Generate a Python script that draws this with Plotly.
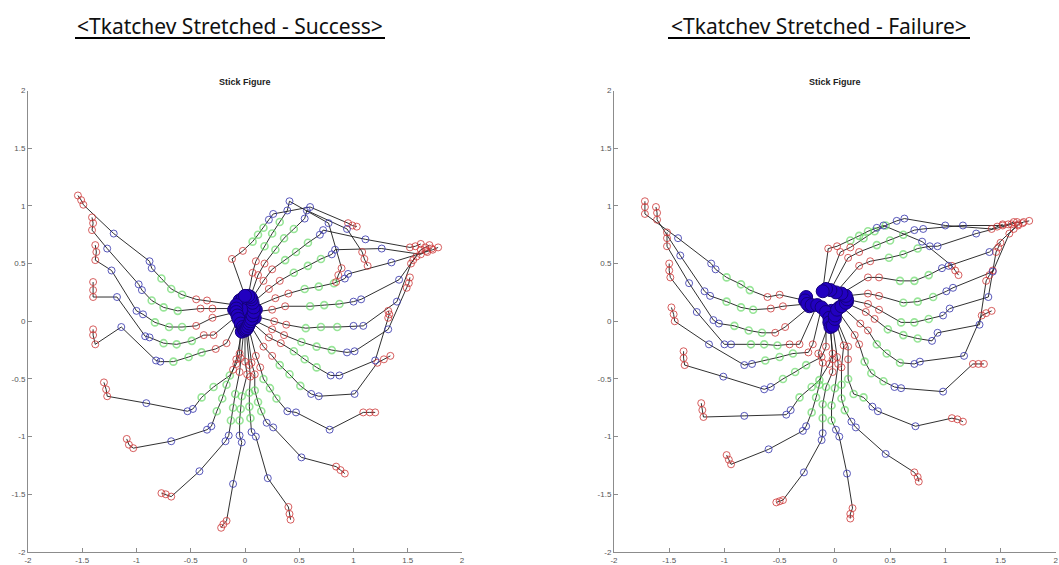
import plotly.graph_objects as go

W, H = 1059, 565

# ---------------- Tkatchev stretched - success ----------------
# one entry per frame: hand on bar, arm (2 markers), trunk (3), hip (2), knee, foot (3)
success_hand = [(-0.08, 0.14), (-0.08, 0.11), (-0.08, 0.08), (-0.07, 0.05), (-0.06, 0.02),
                (-0.04, -0.02), (-0.02, -0.05), (-0.01, -0.07), (0.0, -0.08), (0.01, -0.07),
                (0.02, -0.06), (0.03, -0.04), (0.04, -0.02), (0.05, 0.0), (0.06, 0.02),
                (0.07, 0.05), (0.08, 0.08), (0.08, 0.12), (0.07, 0.16), (0.06, 0.19),
                (0.05, 0.21), (0.03, 0.22), (0.0, 0.22)]
success_hub_extra = [(-0.1, 0.1), (-0.05, 0.18), (-0.02, 0.2), (0.02, 0.16),
                     (0.1, 0.1), (0.09, 0.03), (0.04, 0.06), (-0.03, 0.1),
                     (-0.03, -0.09), (0.0, -0.02)]
success_arm = [[(-0.35, 0.18), (-0.45, 0.19)], [(-0.30, 0.11), (-0.41, 0.11)],
               [(-0.30, 0.03), (-0.45, -0.04)], [(-0.29, -0.12), (-0.38, -0.12)],
               [(-0.17, -0.19), (-0.27, -0.24)], [(-0.05, -0.28), (-0.08, -0.37)],
               [(-0.08, -0.33), (-0.11, -0.42)], [(-0.04, -0.32), (-0.05, -0.44)],
               [(0.0, -0.35), (0.02, -0.46)], [(0.04, -0.38), (0.05, -0.48)],
               [(0.06, -0.36), (0.09, -0.46)], [(0.10, -0.30), (0.14, -0.40)],
               [(0.17, -0.22), (0.25, -0.30)], [(0.22, -0.14), (0.33, -0.19)],
               [(0.25, -0.07), (0.36, -0.12)], [(0.27, 0.0), (0.38, -0.03)],
               [(0.25, 0.10), (0.37, 0.13)], [(0.28, 0.20), (0.40, 0.24)],
               [(0.22, 0.28), (0.32, 0.35)], [(0.17, 0.35), (0.25, 0.45)],
               [(0.12, 0.40), (0.18, 0.50)], [(0.07, 0.42), (0.10, 0.52)],
               [(-0.12, 0.54), (-0.02, 0.61)]]
success_trunk = [[(-0.58, 0.23), (-0.68, 0.28), (-0.77, 0.37)],
                 [(-0.62, 0.09), (-0.75, 0.12), (-0.86, 0.18)],
                 [(-0.58, -0.05), (-0.70, -0.05), (-0.83, -0.01)],
                 [(-0.49, -0.17), (-0.63, -0.20), (-0.75, -0.19)],
                 [(-0.40, -0.27), (-0.52, -0.31), (-0.66, -0.35)],
                 [(-0.14, -0.47), (-0.29, -0.57), (-0.40, -0.66)],
                 [(-0.17, -0.55), (-0.21, -0.67), (-0.26, -0.78)],
                 [(-0.09, -0.63), (-0.11, -0.75), (-0.13, -0.86)],
                 [(-0.03, -0.65), (-0.04, -0.76), (-0.05, -0.86)],
                 [(0.04, -0.62), (0.04, -0.74), (0.05, -0.84)],
                 [(0.09, -0.60), (0.12, -0.70), (0.15, -0.78)],
                 [(0.17, -0.50), (0.23, -0.58), (0.29, -0.67)],
                 [(0.32, -0.38), (0.41, -0.46), (0.51, -0.56)],
                 [(0.45, -0.26), (0.55, -0.33), (0.66, -0.40)],
                 [(0.52, -0.18), (0.66, -0.22), (0.80, -0.25)],
                 [(0.56, -0.06), (0.70, -0.05), (0.85, -0.05)],
                 [(0.60, 0.13), (0.73, 0.14), (0.87, 0.15)],
                 [(0.55, 0.28), (0.68, 0.30), (0.82, 0.33)],
                 [(0.45, 0.42), (0.58, 0.48), (0.70, 0.54)],
                 [(0.37, 0.53), (0.47, 0.60), (0.58, 0.68)],
                 [(0.28, 0.62), (0.36, 0.72), (0.45, 0.80)],
                 [(0.18, 0.65), (0.25, 0.76), (0.32, 0.86)],
                 [(0.07, 0.69), (0.12, 0.75), (0.17, 0.81)]]
success_hip = [[(-0.86, 0.46), (-0.88, 0.52)], [(-0.95, 0.27), (-0.98, 0.32)],
               [(-0.94, 0.06), (-1.00, 0.09)], [(-0.88, -0.14), (-0.92, -0.13)],
               [(-0.78, -0.35), (-0.82, -0.34)], [(-0.48, -0.76), (-0.53, -0.78)],
               [(-0.31, -0.91), (-0.35, -0.94)], [(-0.15, -0.99), (-0.18, -1.04)],
               [(-0.05, -0.99), (-0.03, -1.05)], [(0.06, -0.96), (0.10, -1.00)],
               [(0.20, -0.88), (0.26, -0.92)], [(0.39, -0.78), (0.47, -0.79)],
               [(0.61, -0.63), (0.68, -0.65)], [(0.79, -0.47), (0.87, -0.47)],
               [(0.94, -0.27), (1.01, -0.26)], [(1.00, -0.04), (1.09, -0.04)],
               [(1.00, 0.17), (1.07, 0.19)], [(0.92, 0.37), (0.95, 0.41)],
               [(0.80, 0.58), (0.83, 0.62)], [(0.69, 0.75), (0.72, 0.79)],
               [(0.55, 0.89), (0.57, 0.96)], [(0.39, 0.96), (0.41, 1.04)],
               [(0.22, 0.88), (0.26, 0.93)]]
success_knee = [(-1.21, 0.76), (-1.27, 0.63), (-1.23, 0.44), (-1.18, 0.21), (-1.14, -0.05),
                (-0.91, -0.71), (-0.68, -1.04), (-0.42, -1.30), (-0.11, -1.41), (0.21, -1.36),
                (0.52, -1.18), (0.78, -0.94), (1.01, -0.63), (1.20, -0.34), (1.32, -0.07),
                (1.40, 0.17), (1.42, 0.36), (1.35, 0.51), (1.26, 0.63), (1.11, 0.71),
                (0.94, 0.80), (0.77, 0.85), (0.60, 0.99)]
success_foot = [[(-1.49, 1.01), (-1.51, 1.05), (-1.54, 1.09)],
                [(-1.41, 0.79), (-1.40, 0.85), (-1.41, 0.90)],
                [(-1.38, 0.53), (-1.37, 0.60), (-1.38, 0.66)],
                [(-1.40, 0.21), (-1.40, 0.27), (-1.40, 0.34)],
                [(-1.38, -0.20), (-1.40, -0.12), (-1.40, -0.07)],
                [(-1.27, -0.65), (-1.28, -0.59), (-1.30, -0.53)],
                [(-1.03, -1.10), (-1.07, -1.07), (-1.09, -1.02)],
                [(-0.68, -1.52), (-0.73, -1.50), (-0.77, -1.49)],
                [(-0.17, -1.73), (-0.20, -1.76), (-0.22, -1.79)],
                [(0.40, -1.61), (0.41, -1.67), (0.42, -1.72)],
                [(0.84, -1.26), (0.88, -1.29), (0.92, -1.32)],
                [(1.09, -0.79), (1.15, -0.79), (1.20, -0.79)],
                [(1.22, -0.36), (1.28, -0.33), (1.34, -0.30)],
                [(1.32, 0.03), (1.33, 0.06), (1.32, 0.09)],
                [(1.49, 0.29), (1.51, 0.33), (1.52, 0.38)],
                [(1.53, 0.50), (1.55, 0.53), (1.58, 0.56)],
                [(1.62, 0.62), (1.66, 0.64), (1.70, 0.66)],
                [(1.68, 0.60), (1.73, 0.62), (1.78, 0.64)],
                [(1.62, 0.58), (1.67, 0.61), (1.72, 0.63)],
                [(1.52, 0.64), (1.57, 0.65), (1.62, 0.67)],
                [(1.08, 0.60), (1.10, 0.54), (1.13, 0.48)],
                [(0.89, 0.46), (0.86, 0.40), (0.84, 0.34)],
                [(0.95, 0.85), (0.99, 0.83), (1.03, 0.82)]]

# ---------------- Tkatchev stretched - failure ----------------
failure_hand = [(-0.27, 0.18), (-0.25, 0.15), (-0.21, 0.14), (-0.16, 0.14), (-0.12, 0.12),
                (-0.08, 0.08), (-0.05, 0.03), (-0.05, -0.01), (-0.04, -0.05), (-0.02, -0.04),
                (0.0, 0.02), (0.0, 0.05), (0.02, 0.10), (0.06, 0.13), (0.10, 0.16),
                (0.11, 0.19), (0.10, 0.22), (0.06, 0.24), (0.01, 0.25), (-0.04, 0.27),
                (-0.08, 0.28), (-0.11, 0.26)]
failure_hub_extra = [(-0.03, 0.09), (-0.26, 0.21), (0.04, 0.12), (-0.23, 0.13), (0.11, 0.17)]
failure_arm = [[(-0.50, 0.23), (-0.61, 0.21)], [(-0.47, 0.13), (-0.58, 0.11)],
               [(-0.45, -0.05), (-0.54, -0.10)], [(-0.32, -0.20), (-0.41, -0.20)],
               [(-0.20, -0.20), (-0.24, -0.27)], [(-0.08, -0.22), (-0.12, -0.31)],
               [(-0.02, -0.28), (-0.05, -0.37)], [(-0.15, -0.28), (-0.11, -0.36)],
               [(-0.02, -0.33), (-0.02, -0.44)], [(0.02, -0.31), (0.03, -0.37)],
               [(0.08, -0.21), (0.06, -0.40)], [(0.12, -0.22), (0.12, -0.33)],
               [(0.18, -0.12), (0.22, -0.20)], [(0.23, -0.02), (0.30, -0.08)],
               [(0.28, 0.08), (0.36, 0.02)], [(0.30, 0.15), (0.40, 0.10)],
               [(0.30, 0.24), (0.40, 0.22)], [(0.30, 0.38), (0.40, 0.38)],
               [(0.22, 0.48), (0.32, 0.52)], [(0.12, 0.55), (0.22, 0.60)],
               [(0.05, 0.60), (0.14, 0.64)], [(-0.06, 0.63), (0.02, 0.65)]]
failure_trunk = [[(-0.77, 0.27), (-0.85, 0.32), (-0.98, 0.38)],
                 [(-0.74, 0.10), (-0.85, 0.12), (-0.98, 0.17)],
                 [(-0.66, -0.10), (-0.78, -0.08), (-0.91, -0.04)],
                 [(-0.52, -0.21), (-0.64, -0.20), (-0.76, -0.20)],
                 [(-0.38, -0.28), (-0.50, -0.31), (-0.63, -0.34)],
                 [(-0.26, -0.38), (-0.36, -0.44), (-0.47, -0.50)],
                 [(-0.14, -0.51), (-0.21, -0.57), (-0.32, -0.66)],
                 [(-0.14, -0.55), (-0.17, -0.66), (-0.21, -0.79)],
                 [(-0.08, -0.57), (-0.11, -0.72), (-0.11, -0.84)],
                 [(0.00, -0.58), (-0.03, -0.73), (-0.03, -0.86)],
                 [(0.06, -0.55), (0.06, -0.67), (0.09, -0.77)],
                 [(0.12, -0.50), (0.17, -0.63), (0.26, -0.66)],
                 [(0.27, -0.35), (0.33, -0.45), (0.44, -0.52)],
                 [(0.38, -0.20), (0.47, -0.28), (0.59, -0.36)],
                 [(0.48, -0.07), (0.62, -0.12), (0.75, -0.15)],
                 [(0.60, -0.01), (0.72, -0.01), (0.85, 0.02)],
                 [(0.62, 0.16), (0.75, 0.17), (0.89, 0.21)],
                 [(0.59, 0.35), (0.72, 0.35), (0.85, 0.40)],
                 [(0.49, 0.55), (0.62, 0.58), (0.75, 0.63)],
                 [(0.38, 0.66), (0.50, 0.70), (0.62, 0.75)],
                 [(0.26, 0.72), (0.36, 0.78), (0.46, 0.83)],
                 [(0.14, 0.70), (0.22, 0.74), (0.30, 0.78)]]
failure_hip = [[(-1.08, 0.45), (-1.12, 0.50)], [(-1.13, 0.22), (-1.18, 0.26)],
               [(-1.05, -0.02), (-1.10, 0.01)], [(-0.94, -0.20), (-1.00, -0.20)],
               [(-0.75, -0.37), (-0.82, -0.38)], [(-0.58, -0.57), (-0.64, -0.59)],
               [(-0.40, -0.77), (-0.44, -0.81)], [(-0.26, -0.91), (-0.29, -0.95)],
               [(-0.11, -0.97), (-0.12, -1.03)], [(0.01, -0.94), (0.04, -1.00)],
               [(0.15, -0.87), (0.19, -0.92)], [(0.34, -0.74), (0.39, -0.78)],
               [(0.54, -0.57), (0.60, -0.58)], [(0.72, -0.37), (0.77, -0.35)],
               [(0.88, -0.17), (0.93, -0.10)], [(0.98, 0.05), (1.04, 0.11)],
               [(1.01, 0.26), (1.07, 0.29)], [(0.97, 0.46), (1.03, 0.48)],
               [(0.86, 0.65), (0.93, 0.65)], [(0.72, 0.79), (0.80, 0.80)],
               [(0.56, 0.87), (0.63, 0.89)], [(0.38, 0.81), (0.44, 0.83)]]
failure_knee = [(-1.42, 0.72), (-1.40, 0.57), (-1.32, 0.33), (-1.25, 0.08), (-1.14, -0.20),
                (-1.01, -0.48), (-0.82, -0.82), (-0.60, -1.11), (-0.28, -1.31), (0.11, -1.32),
                (0.46, -1.15), (0.73, -0.91), (0.98, -0.61), (1.17, -0.30), (1.31, -0.03),
                (1.39, 0.21), (1.43, 0.43), (1.40, 0.60), (1.28, 0.76), (1.16, 0.83),
                (1.00, 0.83), (0.79, 0.69)]
failure_foot = [[(-1.72, 0.93), (-1.72, 0.99), (-1.72, 1.04)],
                [(-1.61, 0.88), (-1.61, 0.94), (-1.62, 0.99)],
                [(-1.52, 0.65), (-1.52, 0.72), (-1.52, 0.77)],
                [(-1.49, 0.38), (-1.50, 0.44), (-1.50, 0.50)],
                [(-1.45, 0.00), (-1.46, 0.06), (-1.48, 0.12)],
                [(-1.36, -0.38), (-1.37, -0.32), (-1.37, -0.26)],
                [(-1.19, -0.83), (-1.20, -0.77), (-1.21, -0.71)],
                [(-0.94, -1.24), (-0.96, -1.20), (-0.98, -1.16)],
                [(-0.47, -1.55), (-0.50, -1.56), (-0.53, -1.57)],
                [(0.16, -1.62), (0.14, -1.67), (0.14, -1.71)],
                [(0.72, -1.31), (0.75, -1.35), (0.76, -1.39)],
                [(1.06, -0.84), (1.11, -0.85), (1.16, -0.87)],
                [(1.25, -0.37), (1.30, -0.37), (1.35, -0.37)],
                [(1.33, 0.05), (1.37, 0.07), (1.42, 0.09)],
                [(1.37, 0.35), (1.40, 0.40), (1.43, 0.44)],
                [(1.46, 0.60), (1.48, 0.64), (1.50, 0.68)],
                [(1.58, 0.76), (1.62, 0.80), (1.66, 0.83)],
                [(1.66, 0.84), (1.71, 0.86), (1.76, 0.87)],
                [(1.60, 0.84), (1.65, 0.86), (1.70, 0.85)],
                [(1.52, 0.83), (1.57, 0.84), (1.62, 0.86)],
                [(1.42, 0.80), (1.47, 0.82), (1.52, 0.84)],
                [(1.06, 0.48), (1.09, 0.44), (1.12, 0.40)]]

tick_vals = [-2, -1.5, -1, -0.5, 0, 0.5, 1, 1.5, 2]
tick_text = ["-2", "-1.5", "-1", "-0.5", "0", "0.5", "1", "1.5", "2"]
panel_titles = ["<Tkatchev Stretched - Success>", "<Tkatchev Stretched - Failure>"]

LINE = "rgba(25,25,25,0.9)"
RED = "rgba(205,55,55,0.8)"
GREEN = "rgba(95,215,95,0.65)"
BLUE = "rgba(60,60,175,0.85)"


def xy(points):
    return [p[0] for p in points], [p[1] for p in points]


def add_panel(fig, hand, extra, arm, trunk, hip, knee, foot, xa, ya):
    lx, ly = [], []
    for h, a, t, p, k, f in zip(hand, arm, trunk, hip, knee, foot):
        chain = [h] + a + t + p + [k] + f
        lx += [q[0] for q in chain] + [None]
        ly += [q[1] for q in chain] + [None]
    fig.add_trace(go.Scatter(x=lx, y=ly, mode="lines", xaxis=xa, yaxis=ya,
                             line=dict(color=LINE, width=1), hoverinfo="skip"))

    def ring(points, color, width):
        px, py = xy(points)
        fig.add_trace(go.Scatter(x=px, y=py, mode="markers", xaxis=xa, yaxis=ya,
                                 marker=dict(symbol="circle-open", size=7,
                                             line=dict(color=color, width=width),
                                             color=color)))

    ring([q for t in trunk for q in t], GREEN, 1.6)
    ring([q for a in arm for q in a] + [q for f in foot for q in f], RED, 1.0)
    ring([q for p in hip for q in p] + list(knee), BLUE, 1.0)

    hx, hy = xy(list(extra) + list(hand))
    fig.add_trace(go.Scatter(x=hx, y=hy, mode="markers", xaxis=xa, yaxis=ya,
                             marker=dict(symbol="circle", size=13, color="#2200c0",
                                         line=dict(color="#14007a", width=1))))


fig = go.Figure()
add_panel(fig, success_hand, success_hub_extra, success_arm, success_trunk,
          success_hip, success_knee, success_foot, "x", "y")
add_panel(fig, failure_hand, failure_hub_extra, failure_arm, failure_trunk,
          failure_hip, failure_knee, failure_foot, "x2", "y2")

y_dom = [1 - 552 / H, 1 - 90.5 / H]
axis_common = dict(range=[-2, 2], tickvals=tick_vals, ticktext=tick_text,
                   showgrid=False, zeroline=False, showline=True, linecolor="#8c8c8c",
                   linewidth=1, ticks="inside", ticklen=4, tickcolor="#8c8c8c",
                   tickfont=dict(family="Liberation Sans, Arial", size=8, color="#555555"),
                   mirror=False, fixedrange=True, automargin=False)

fig.update_layout(
    width=W, height=H, autosize=False,
    margin=dict(l=0, r=0, t=0, b=0),
    paper_bgcolor="white", plot_bgcolor="white",
    showlegend=False,
    xaxis=dict(domain=[28 / W, 462 / W], anchor="y", **axis_common),
    yaxis=dict(domain=y_dom, anchor="x", **axis_common),
    xaxis2=dict(domain=[614 / W, 1055.7 / W], anchor="y2", **axis_common),
    yaxis2=dict(domain=y_dom, anchor="x2", **axis_common),
)

# panel headings with underline, and the small axes titles
heading_pos = [(229.5, 75, 385), (818.5, 668, 970)]
for text, (cx, u0, u1) in zip(panel_titles, heading_pos):
    fig.add_annotation(text=text, xref="paper", yref="paper", x=cx / W, y=1 - 26 / H,
                       xanchor="center", yanchor="middle", showarrow=False,
                       font=dict(family="Noto Sans", size=21, color="#111111"))
    fig.add_shape(type="line", xref="paper", yref="paper", x0=u0 / W, x1=u1 / W,
                  y0=1 - 38 / H, y1=1 - 38 / H, line=dict(color="black", width=2))

for cx in (245, 835):
    fig.add_annotation(text="<b>Stick Figure</b>", xref="paper", yref="paper",
                       x=cx / W, y=1 - 82 / H, xanchor="center", yanchor="middle",
                       showarrow=False,
                       font=dict(family="Liberation Sans, Arial", size=9, color="#222222"))

fig.write_html("out.html")
